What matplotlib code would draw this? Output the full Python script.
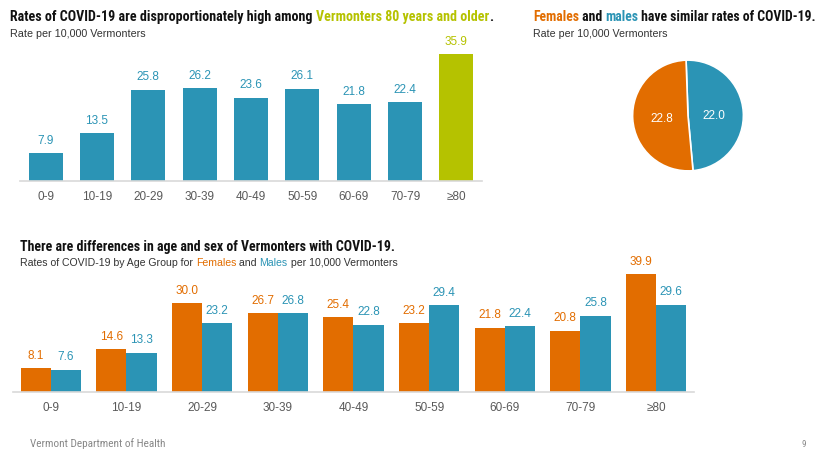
import matplotlib
matplotlib.use("Agg")
import numpy as np
import matplotlib.pyplot as plt
from matplotlib import font_manager

age_groups = ["0-9", "10-19", "20-29", "30-39", "40-49", "50-59", "60-69", "70-79", "≥80"]
overall_rates = [7.9, 13.5, 25.8, 26.2, 23.6, 26.1, 21.8, 22.4, 35.9]
female_rates = [8.1, 14.6, 30.0, 26.7, 25.4, 23.2, 21.8, 20.8, 39.9]
male_rates = [7.6, 13.3, 23.2, 26.8, 22.8, 29.4, 22.4, 25.8, 29.6]
sex_labels = ["Males", "Females"]
sex_rates = [22.0, 22.8]

BLUE = "#2b94b5"
ORANGE = "#e26d00"
GREEN = "#b5c200"
GREY = "#595959"
AXIS = "#d9d9d9"

installed = {f.name for f in font_manager.fontManager.ttflist}
title_font = "DejaVu Sans"
for cand in ["Roboto Condensed", "Liberation Sans Narrow", "Open Sans Condensed", "Roboto", "Liberation Sans"]:
    if cand in installed:
        title_font = cand
        break
BODY_FAM = ["Liberation Sans", "DejaVu Sans"]
TITLE_FAM = [title_font, "DejaVu Sans"]
plt.rcParams['font.family'] = BODY_FAM

W, H = 820, 449
fig = plt.figure(figsize=(W / 100, H / 100), dpi=100)
fig.patch.set_facecolor("white")


def fx(px):
    return px / W


def fy(py):
    return 1 - py / H


def ax_rect(left, top, right, bottom):
    return [fx(left), fy(bottom), (right - left) / W, (bottom - top) / H]


def rich_text(x, y, pieces, target_width=None, fontsize=10, **kw):
    fig.canvas.draw()
    r = fig.canvas.get_renderer()
    size = fontsize
    if target_width is not None:
        tmp = [fig.text(0, 0, s, fontsize=fontsize, **kw) for s, c in pieces]
        tot = sum(t.get_window_extent(renderer=r).width for t in tmp)
        for t in tmp:
            t.remove()
        size = fontsize * target_width / tot
    cx = x
    for s, c in pieces:
        t = fig.text(fx(cx), fy(y), s, color=c, va="baseline", ha="left", fontsize=size, **kw)
        bb = t.get_window_extent(renderer=r)
        cx += bb.width


def style_axes(ax):
    for s in ["top", "right", "left"]:
        ax.spines[s].set_visible(False)
    ax.spines["bottom"].set_color(AXIS)
    ax.spines["bottom"].set_linewidth(1.2)
    ax.set_yticks([])
    ax.tick_params(axis="x", length=0, labelsize=8.5, labelcolor=GREY, pad=7)


# Top-left bar chart
ax1 = fig.add_axes(ax_rect(20, 39.5, 482, 181))
x = list(range(len(age_groups)))
colors = [BLUE] * (len(age_groups) - 1) + [GREEN]
ax1.bar(x, overall_rates, width=0.66, color=colors)
for xi, v, c in zip(x, overall_rates, colors):
    ax1.annotate(f"{v:.1f}", (xi, v), xytext=(0, 4.5), textcoords="offset points",
                 ha="center", va="bottom", fontsize=8.5, color=c)
ax1.set_xlim(-0.5, 8.5)
ax1.set_ylim(0, 40)
ax1.set_xticks(x)
ax1.set_xticklabels(age_groups)
style_axes(ax1)

# Pie
ax2 = fig.add_axes(ax_rect(631.5, 59, 744.5, 172))
wedges, texts = ax2.pie(sex_rates, colors=[BLUE, ORANGE], startangle=92, counterclock=False,
                        wedgeprops=dict(edgecolor="white", linewidth=1.2), radius=1)
for w, v in zip(wedges, sex_rates):
    ang = np.deg2rad((w.theta1 + w.theta2) / 2)
    ax2.text(0.47 * np.cos(ang), 0.47 * np.sin(ang) - 0.04, f"{v:.1f}", ha="center", va="center",
             color="white", fontsize=8.5)
ax2.set_xlim(-1.02, 1.02)
ax2.set_ylim(-1.02, 1.02)
ax2.set_aspect("equal")

# Bottom grouped bars
ax3 = fig.add_axes(ax_rect(13, 259, 694, 392))
bw = 0.40
ax3.bar([i - bw / 2 for i in x], female_rates, width=bw, color=ORANGE)
ax3.bar([i + bw / 2 for i in x], male_rates, width=bw, color=BLUE)
for xi, f, m in zip(x, female_rates, male_rates):
    ax3.annotate(f"{f:.1f}", (xi - bw / 2, f), xytext=(0, 4.5), textcoords="offset points",
                 ha="center", va="bottom", fontsize=8.5, color=ORANGE)
    ax3.annotate(f"{m:.1f}", (xi + bw / 2, m), xytext=(0, 4.5), textcoords="offset points",
                 ha="center", va="bottom", fontsize=8.5, color=BLUE)
ax3.set_xlim(-0.5, 8.5)
ax3.set_ylim(0, 45)
ax3.set_xticks(x)
ax3.set_xticklabels(age_groups)
style_axes(ax3)

# Titles
tkw = dict(fontweight="bold", family=TITLE_FAM)
skw = dict(family=BODY_FAM)
rich_text(10, 21, [("Rates of COVID-19 are disproportionately high among ", "#111111"),
                   ("Vermonters 80 years and older", GREEN), (".", "#111111")],
          target_width=482, **tkw)
rich_text(10, 37, [("Rate per 10,000 Vermonters", "#333333")], target_width=135, **skw)

rich_text(533, 21, [("Females", ORANGE), (" and ", "#111111"), ("males", BLUE),
                    (" have similar rates of COVID-19.", "#111111")], target_width=284, **tkw)
rich_text(533, 37, [("Rate per 10,000 Vermonters", "#333333")], target_width=134, **skw)

rich_text(20, 251, [("There are differences in age and sex of Vermonters with COVID-19.", "#111111")],
          target_width=374, **tkw)
rich_text(20, 266, [("Rates of COVID-19 by Age Group for ", "#333333"), ("Females", ORANGE),
                    (" and ", "#333333"), ("Males", BLUE), (" per 10,000 Vermonters", "#333333")],
          target_width=377, **skw)

rich_text(30, 447, [("Vermont Department of Health", "#888888")], target_width=135, family=TITLE_FAM)
fig.text(fx(806), fy(447), "9", color="#888888", fontsize=6.5, va="baseline", ha="right",
         family=TITLE_FAM)

fig.savefig("out.png", dpi=100, facecolor="white")
